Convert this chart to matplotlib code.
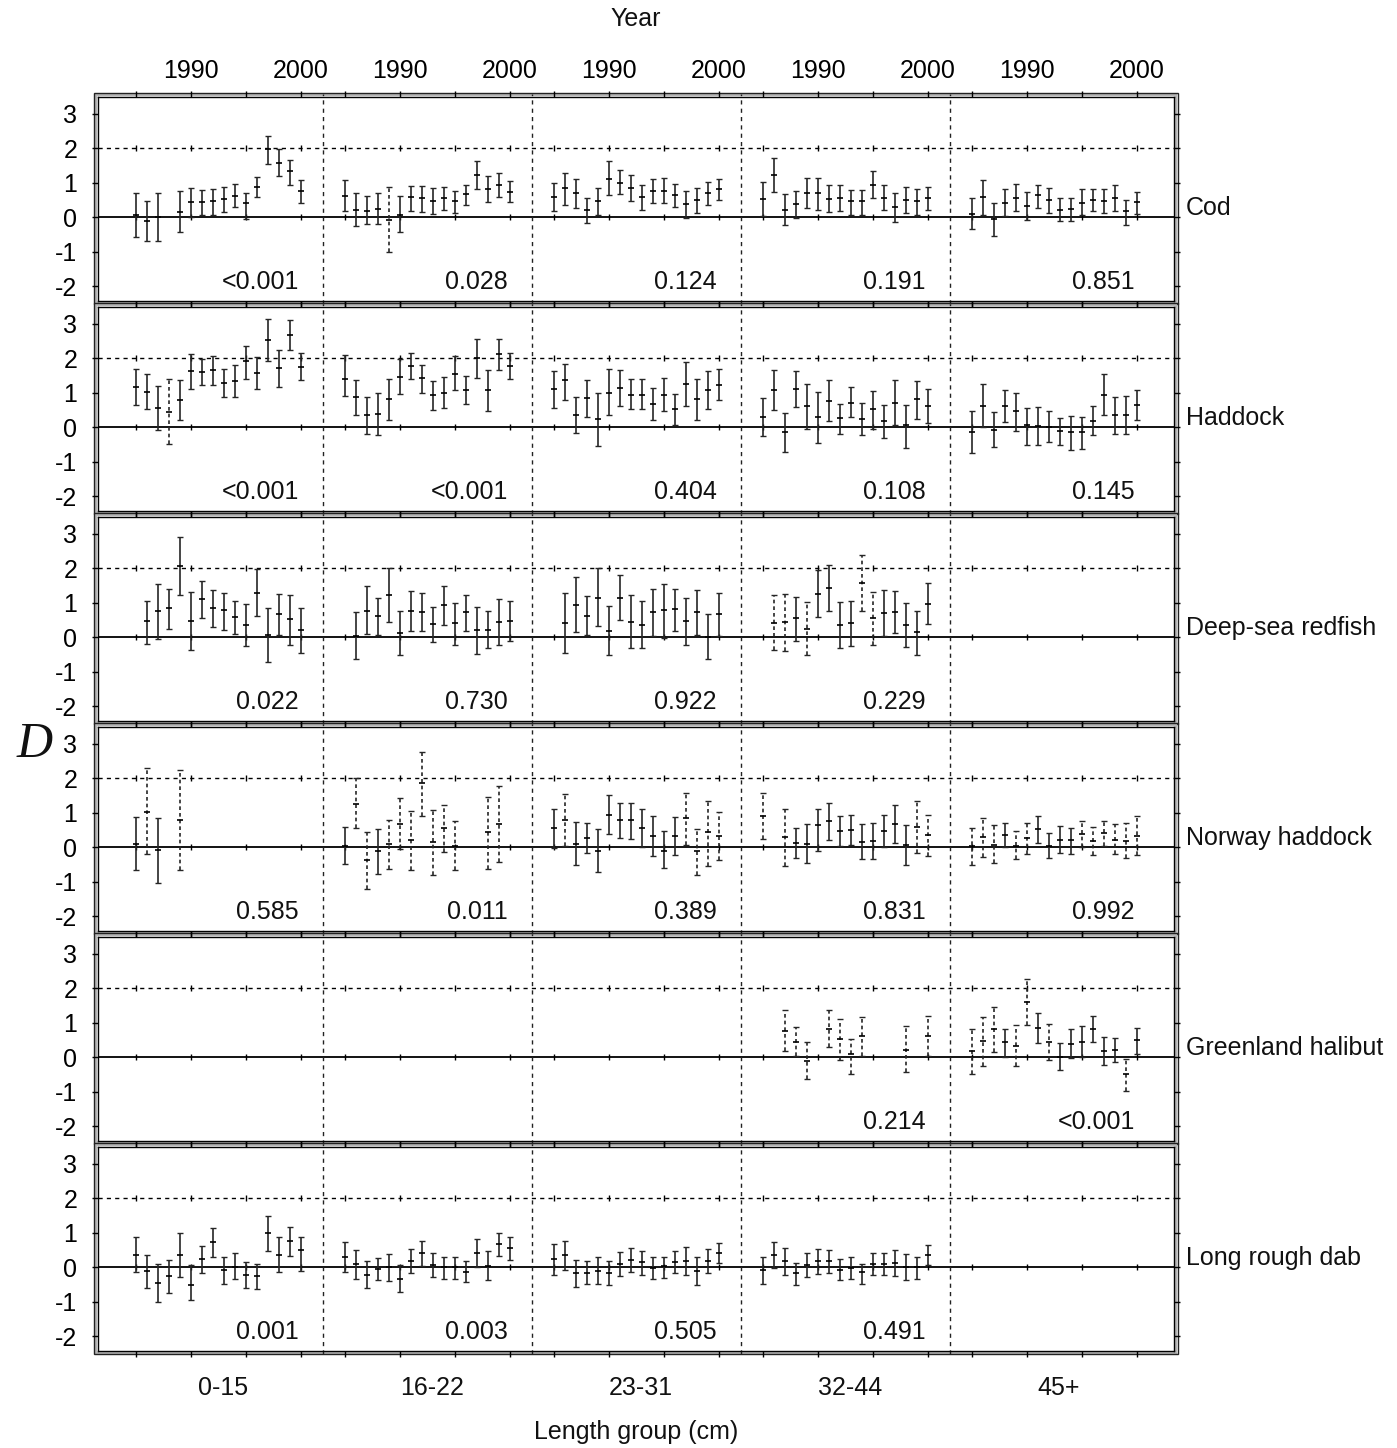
import numpy as np
import matplotlib
matplotlib.use("Agg")
import matplotlib.pyplot as plt
from matplotlib.patches import Rectangle
import matplotlib.transforms as mtransforms

nan = np.nan

# ---------------- data ----------------
YEARS = list(range(1985, 2001))
LENGTH_GROUPS = ["0-15", "16-22", "23-31", "32-44", "45+"]
SPECIES = ["Cod", "Haddock", "Deep-sea redfish", "Norway haddock",
           "Greenland halibut", "Long rough dab"]
EMPTY = [nan] * 16

# Cod
COD_MID = [
    [0.07, -0.10, 0.02, nan, 0.16, 0.44, 0.43, 0.46, 0.53, 0.63, 0.42, 0.89, 1.97, 1.58, 1.33, 0.77],
    [0.63, 0.22, 0.19, 0.25, -0.08, 0.08, 0.58, 0.56, 0.48, 0.57, 0.46, 0.67, 1.22, 0.82, 0.95, 0.74],
    [0.60, 0.84, 0.70, 0.20, 0.46, 1.12, 1.01, 0.84, 0.58, 0.77, 0.77, 0.65, 0.38, 0.50, 0.70, 0.81],
    [0.52, 1.22, 0.22, 0.38, 0.70, 0.70, 0.52, 0.57, 0.46, 0.46, 0.93, 0.57, 0.29, 0.50, 0.46, 0.57],
    [0.11, 0.60, -0.04, 0.41, 0.57, 0.33, 0.65, 0.50, 0.22, 0.24, 0.41, 0.50, 0.48, 0.55, 0.17, 0.44],
]
COD_LO = [
    [-0.56, -0.68, -0.68, nan, -0.43, 0.0, 0.08, 0.08, 0.15, 0.31, -0.05, 0.58, 1.55, 1.21, 0.94, 0.42],
    [0.17, -0.24, -0.19, -0.19, -1.0, -0.43, 0.17, 0.16, 0.10, 0.22, 0.12, 0.36, 0.82, 0.44, 0.60, 0.44],
    [0.17, 0.36, 0.27, -0.16, 0.08, 0.65, 0.68, 0.46, 0.20, 0.41, 0.41, 0.29, -0.02, 0.12, 0.36, 0.50],
    [0.03, 0.72, -0.21, -0.02, 0.27, 0.22, 0.15, 0.17, 0.08, 0.08, 0.55, 0.22, -0.13, 0.12, 0.08, 0.22],
    [-0.35, 0.08, -0.54, 0.03, 0.17, -0.07, 0.27, 0.12, -0.11, -0.10, 0.06, 0.17, 0.12, 0.17, -0.21, 0.10],
]
COD_HI = [
    [0.70, 0.46, 0.70, nan, 0.75, 0.86, 0.79, 0.82, 0.89, 0.96, 0.71, 1.16, 2.35, 1.97, 1.67, 1.08],
    [1.08, 0.70, 0.61, 0.70, 0.87, 0.61, 0.90, 0.90, 0.85, 0.89, 0.77, 0.93, 1.63, 1.19, 1.30, 1.06],
    [1.01, 1.29, 1.12, 0.57, 0.86, 1.62, 1.36, 1.24, 0.95, 1.12, 1.14, 0.98, 0.76, 0.84, 1.03, 1.12],
    [1.03, 1.71, 0.68, 0.77, 1.14, 1.14, 0.93, 0.95, 0.79, 0.79, 1.33, 0.95, 0.71, 0.89, 0.81, 0.89],
    [0.55, 1.08, 0.41, 0.81, 0.98, 0.74, 0.93, 0.86, 0.55, 0.57, 0.82, 0.82, 0.82, 0.93, 0.50, 0.74],
]
COD_DASHED = [[], [1989], [], [], []]
COD_P = ["<0.001", "0.028", "0.124", "0.191", "0.851"]

# Haddock
HAD_MID = [
    [1.17, 1.02, 0.56, 0.44, 0.80, 1.64, 1.60, 1.67, 1.29, 1.35, 1.91, 1.57, 2.53, 1.72, 2.69, 1.75],
    [1.40, 0.88, 0.37, 0.39, 0.83, 1.46, 1.79, 1.43, 0.95, 1.01, 1.55, 1.08, 2.01, 1.08, 2.12, 1.78],
    [1.10, 1.36, 0.36, 0.84, 0.25, 1.01, 1.14, 0.95, 0.95, 0.68, 0.93, 0.53, 1.25, 0.82, 1.08, 1.24],
    [0.30, 1.08, -0.14, 1.10, 0.63, 0.30, 0.77, 0.27, 0.71, 0.24, 0.52, 0.19, 0.71, 0.08, 0.81, 0.62],
    [-0.14, 0.63, -0.09, 0.63, 0.48, 0.06, 0.03, 0.0, -0.12, -0.14, -0.14, 0.17, 0.95, 0.37, 0.37, 0.66],
]
HAD_LO = [
    [0.64, 0.54, -0.07, -0.47, 0.22, 1.12, 1.22, 1.24, 0.87, 0.88, 1.41, 1.11, 1.93, 1.17, 2.25, 1.38],
    [0.90, 0.37, -0.18, -0.23, 0.22, 0.97, 1.40, 1.01, 0.51, 0.57, 1.08, 0.68, 1.43, 0.48, 1.67, 1.41],
    [0.57, 0.79, -0.16, 0.31, -0.54, 0.36, 0.62, 0.52, 0.52, 0.22, 0.46, 0.08, 0.62, 0.20, 0.53, 0.79],
    [-0.26, 0.50, -0.71, 0.60, -0.04, -0.45, 0.17, -0.18, 0.29, -0.21, -0.04, -0.30, 0.08, -0.61, 0.24, 0.12],
    [-0.76, 0.0, -0.58, 0.14, -0.10, -0.50, -0.50, -0.43, -0.52, -0.65, -0.62, -0.23, 0.37, -0.19, -0.19, 0.22],
]
HAD_HI = [
    [1.69, 1.55, 1.21, 1.40, 1.38, 2.13, 1.98, 2.06, 1.69, 1.80, 2.35, 2.03, 3.14, 2.23, 3.10, 2.15],
    [2.11, 1.38, 0.87, 1.01, 1.40, 1.99, 2.15, 1.82, 1.33, 1.46, 2.08, 1.48, 2.55, 1.65, 2.57, 2.17],
    [1.62, 1.84, 0.89, 1.36, 1.00, 1.68, 1.65, 1.39, 1.39, 1.14, 1.44, 0.98, 1.89, 1.41, 1.63, 1.68],
    [0.84, 1.67, 0.41, 1.62, 1.27, 1.03, 1.36, 0.67, 1.17, 0.70, 1.05, 0.65, 1.38, 0.65, 1.34, 1.12],
    [0.46, 1.27, 0.44, 1.09, 1.01, 0.56, 0.58, 0.46, 0.27, 0.32, 0.30, 0.61, 1.55, 0.88, 0.91, 1.09],
]
HAD_DASHED = [[1988], [], [], [], []]
HAD_P = ["<0.001", "<0.001", "0.404", "0.108", "0.145"]

# Deep-sea redfish
RED_MID = [
    [nan, 0.48, 0.76, 0.84, 2.08, 0.48, 1.10, 0.84, 0.79, 0.58, 0.36, 1.30, 0.08, 0.68, 0.52, 0.22],
    [nan, 0.03, 0.77, 0.62, 1.22, 0.12, 0.77, 0.72, 0.39, 0.93, 0.41, 0.72, 0.22, 0.22, 0.44, 0.48],
    [nan, 0.41, 0.95, 0.62, 1.15, 0.19, 1.15, 0.44, 0.36, 0.72, 0.79, 0.81, 0.48, 0.72, 0.0, 0.67],
    [nan, 0.41, 0.44, 0.55, 0.24, 1.27, 1.44, 0.36, 0.41, 1.58, 0.55, 0.70, 0.74, 0.36, 0.15, 0.98],
    EMPTY,
]
RED_LO = [
    [nan, -0.18, -0.04, 0.24, 1.24, -0.38, 0.55, 0.30, 0.22, 0.10, -0.24, 0.62, -0.71, 0.08, -0.23, -0.45],
    [nan, -0.64, 0.10, 0.08, 0.43, -0.51, 0.19, 0.19, -0.13, 0.36, -0.21, 0.19, -0.47, -0.32, -0.23, -0.10],
    [nan, -0.45, 0.15, 0.06, 0.33, -0.52, 0.50, -0.30, -0.30, 0.03, -0.02, 0.17, -0.23, 0.06, -0.64, 0.03],
    [nan, -0.38, -0.40, -0.10, -0.51, 0.60, 0.77, -0.32, -0.24, 0.76, -0.21, 0.03, 0.12, -0.29, -0.50, 0.39],
    EMPTY,
]
RED_HI = [
    [nan, 1.06, 1.55, 1.41, 2.90, 1.31, 1.63, 1.38, 1.29, 1.06, 0.96, 1.98, 0.84, 1.27, 1.24, 0.86],
    [nan, 0.74, 1.49, 1.15, 2.01, 0.77, 1.34, 1.29, 0.89, 1.49, 1.01, 1.24, 0.87, 0.76, 1.12, 1.06],
    [nan, 1.29, 1.76, 1.19, 2.01, 0.90, 1.82, 1.22, 1.06, 1.41, 1.55, 1.41, 1.15, 1.38, 0.68, 1.29],
    [nan, 1.22, 1.27, 1.17, 1.03, 1.95, 2.10, 1.03, 1.05, 2.39, 1.31, 1.36, 1.34, 1.00, 0.77, 1.57],
    EMPTY,
]
RED_DASHED = [[], [], [], [1986, 1987, 1989, 1994, 1995], []]
RED_P = ["0.022", "0.730", "0.922", "0.229", ""]

# Norway haddock
NOR_MID = [
    [0.11, 1.02, -0.08, nan, 0.80, nan, nan, nan, nan, nan, nan, nan, nan, nan, nan, nan],
    [0.05, 1.27, -0.38, -0.12, 0.10, 0.69, 0.21, 1.87, 0.14, 0.55, 0.04, nan, nan, 0.43, 0.69, nan],
    [0.55, 0.80, 0.10, 0.27, -0.10, 0.95, 0.79, 0.79, 0.57, 0.33, -0.10, 0.33, 0.84, -0.11, 0.43, 0.34],
    [0.90, nan, 0.30, 0.12, 0.10, 0.65, 0.76, 0.48, 0.50, 0.15, 0.19, 0.48, 0.68, 0.08, 0.60, 0.36],
    [0.03, 0.30, 0.06, 0.36, 0.03, 0.27, 0.52, 0.03, 0.22, 0.20, 0.38, 0.19, 0.41, 0.22, 0.19, 0.33],
]
NOR_LO = [
    [-0.65, -0.20, -1.03, nan, -0.65, nan, nan, nan, nan, nan, nan, nan, nan, nan, nan, nan],
    [-0.49, 0.55, -1.21, -0.77, -0.63, -0.06, -0.65, 0.91, -0.81, -0.14, -0.67, nan, nan, -0.62, -0.43, nan],
    [-0.03, 0.04, -0.51, -0.16, -0.71, 0.39, 0.27, 0.25, 0.0, -0.24, -0.61, -0.21, 0.08, -0.80, -0.54, -0.38],
    [0.24, nan, -0.54, -0.30, -0.45, -0.11, 0.20, 0.03, 0.06, -0.35, -0.33, 0.01, 0.12, -0.50, -0.16, -0.26],
    [-0.50, -0.29, -0.45, 0.0, -0.35, -0.19, 0.12, -0.30, -0.16, -0.18, 0.0, -0.23, 0.03, -0.19, -0.32, -0.21],
]
NOR_HI = [
    [0.88, 2.29, 0.85, nan, 2.24, nan, nan, nan, nan, nan, nan, nan, nan, nan, nan, nan],
    [0.59, 2.00, 0.43, 0.52, 0.80, 1.43, 1.06, 2.78, 1.09, 1.23, 0.76, nan, nan, 1.47, 1.77, nan],
    [1.12, 1.55, 0.74, 0.70, 0.52, 1.52, 1.30, 1.30, 1.12, 0.90, 0.46, 0.89, 1.57, 0.52, 1.34, 1.03],
    [1.58, nan, 1.12, 0.55, 0.67, 1.12, 1.29, 0.91, 0.93, 0.68, 0.71, 0.95, 1.22, 0.65, 1.34, 0.95],
    [0.55, 0.86, 0.65, 0.71, 0.46, 0.71, 0.90, 0.41, 0.62, 0.55, 0.77, 0.58, 0.77, 0.67, 0.71, 0.90],
]
NOR_DASHED = [
    [1986, 1989],
    [1986, 1987, 1989, 1990, 1991, 1992, 1993, 1994, 1995, 1998, 1999],
    [1986, 1997, 1998, 1999, 2000],
    [1985, 1987, 1999, 2000],
    [1985, 1986, 1987, 1989, 1990, 1995, 1996, 1997, 1998, 1999, 2000],
]
NOR_P = ["0.585", "0.011", "0.389", "0.831", "0.992"]

# Greenland halibut
GRE_MID = [
    EMPTY, EMPTY, EMPTY,
    [nan, nan, 0.77, 0.44, -0.11, nan, 0.83, 0.52, 0.10, 0.62, nan, nan, nan, 0.22, nan, 0.62],
    [0.19, 0.47, 0.82, 0.44, 0.33, 1.61, 0.85, 0.44, 0.0, 0.39, 0.44, 0.82, 0.19, 0.22, -0.49, 0.50],
]
GRE_LO = [
    EMPTY, EMPTY, EMPTY,
    [nan, nan, 0.19, 0.03, -0.64, nan, 0.29, -0.09, -0.47, 0.05, nan, nan, nan, -0.43, nan, 0.03],
    [-0.47, -0.24, 0.15, 0.0, -0.24, 0.95, 0.41, -0.09, -0.38, -0.02, 0.0, 0.44, -0.23, -0.13, -0.99, 0.09],
]
GRE_HI = [
    EMPTY, EMPTY, EMPTY,
    [nan, nan, 1.36, 0.88, 0.43, nan, 1.37, 1.12, 0.52, 1.18, nan, nan, nan, 0.90, nan, 1.21],
    [0.81, 1.18, 1.45, 0.83, 0.93, 2.26, 1.28, 0.98, 0.41, 0.81, 0.90, 1.19, 0.58, 0.57, -0.05, 0.86],
]
GRE_DASHED = [[], [], [], YEARS, [1985, 1986, 1987, 1989, 1990, 1992, 1999]]
GRE_P = ["", "", "", "0.214", "<0.001"]

# Long rough dab
LRD_MID = [
    [0.36, -0.11, -0.46, -0.24, 0.36, -0.51, 0.24, 0.72, -0.08, 0.02, -0.22, -0.25, 0.99, 0.36, 0.76, 0.50],
    [0.30, 0.10, -0.21, -0.04, 0.0, -0.35, 0.17, 0.41, 0.08, 0.0, 0.0, -0.13, 0.41, 0.03, 0.68, 0.55],
    [0.24, 0.36, -0.16, -0.16, -0.10, -0.16, 0.10, 0.22, 0.15, -0.02, 0.05, 0.15, 0.19, -0.10, 0.17, 0.41],
    [-0.07, 0.36, 0.17, -0.16, 0.08, 0.17, 0.17, -0.07, -0.02, -0.14, 0.10, 0.10, 0.12, 0.0, 0.0, 0.36],
    EMPTY,
]
LRD_LO = [
    [-0.15, -0.61, -1.01, -0.75, -0.27, -0.95, -0.17, 0.31, -0.49, -0.35, -0.59, -0.63, 0.47, -0.15, 0.34, -0.11],
    [-0.14, -0.33, -0.59, -0.38, -0.40, -0.71, -0.16, 0.03, -0.28, -0.33, -0.33, -0.42, 0.0, -0.37, 0.34, 0.22],
    [-0.23, -0.07, -0.56, -0.48, -0.48, -0.52, -0.26, -0.13, -0.21, -0.35, -0.30, -0.16, -0.23, -0.50, -0.16, 0.12],
    [-0.48, -0.02, -0.21, -0.52, -0.28, -0.19, -0.16, -0.38, -0.33, -0.48, -0.21, -0.21, -0.24, -0.38, -0.33, 0.08],
    EMPTY,
]
LRD_HI = [
    [0.87, 0.36, 0.09, 0.21, 1.00, 0.07, 0.63, 1.15, 0.31, 0.41, 0.14, 0.10, 1.50, 0.89, 1.18, 0.87],
    [0.72, 0.49, 0.17, 0.27, 0.38, 0.06, 0.53, 0.77, 0.41, 0.31, 0.31, 0.17, 0.81, 0.48, 1.01, 0.87],
    [0.68, 0.77, 0.20, 0.17, 0.29, 0.17, 0.43, 0.55, 0.46, 0.31, 0.31, 0.46, 0.60, 0.31, 0.52, 0.71],
    [0.31, 0.74, 0.55, 0.12, 0.41, 0.53, 0.50, 0.24, 0.31, 0.10, 0.41, 0.41, 0.49, 0.38, 0.30, 0.65],
    EMPTY,
]
LRD_DASHED = [[], [], [], [], []]
LRD_P = ["0.001", "0.003", "0.505", "0.491", ""]

PANELS = [
    (COD_MID, COD_LO, COD_HI, COD_DASHED, COD_P),
    (HAD_MID, HAD_LO, HAD_HI, HAD_DASHED, HAD_P),
    (RED_MID, RED_LO, RED_HI, RED_DASHED, RED_P),
    (NOR_MID, NOR_LO, NOR_HI, NOR_DASHED, NOR_P),
    (GRE_MID, GRE_LO, GRE_HI, GRE_DASHED, GRE_P),
    (LRD_MID, LRD_LO, LRD_HI, LRD_DASHED, LRD_P),
]

# ---------------- style / layout ----------------
plt.rcParams["font.family"] = ["Liberation Sans", "DejaVu Sans"]
plt.rcParams["axes.unicode_minus"] = False

W, H = 1397, 1448
fig = plt.figure(figsize=(W / 100, H / 100), dpi=100)
fig.patch.set_facecolor("white")

FS = 18
GROUP_SHIFT = 19          # each length group occupies 19 "years" on the shared x axis
XLIM = (1981.55, 2079.36)
YLIM = (-2.42, 3.5)
AX_L, AX_R = 98, 1174
TOP0, AX_H, STEP = 96.7, 204, 210

TICK_YEARS = [1985, 1990, 1995, 2000]
xticks = [y + GROUP_SHIFT * g for g in range(5) for y in TICK_YEARS]
xticklabels = [str(y) if y in (1990, 2000) else "" for g in range(5) for y in TICK_YEARS]

BAR_COLOR = "#262626"
CAP_COLOR = "#8c8c8c"

axes = []
for i, (mid_g, lo_g, hi_g, dash_g, p_g) in enumerate(PANELS):
    top = TOP0 + STEP * i
    ax = fig.add_axes([AX_L / W, 1 - (top + AX_H) / H, (AX_R - AX_L) / W, AX_H / H])
    axes.append(ax)
    ax.set_xlim(*XLIM)
    ax.set_ylim(*YLIM)

    # reference lines
    ax.axhline(0, color="black", lw=1.3, zorder=1)
    ax.axhline(2, color="black", lw=1.0, ls=(0, (3, 3)), zorder=1)
    ax.plot(xticks, [0] * len(xticks), ls="none", marker="|", ms=4.5, mew=1.0, color="black", zorder=1)
    ax.plot(xticks, [2] * len(xticks), ls="none", marker="|", ms=4.5, mew=1.0, color="black", zorder=1)
    for g in range(4):
        ax.axvline(2002 + GROUP_SHIFT * g, ymin=-0.015, ymax=1.015, clip_on=False,
                   color="#222222", lw=1.0, ls=(0, (3, 3)), zorder=1)

    # error bars
    for g in range(5):
        mid = np.array(mid_g[g], dtype=float)
        lo = np.array(lo_g[g], dtype=float)
        hi = np.array(hi_g[g], dtype=float)
        xs = np.array(YEARS) + GROUP_SHIFT * g
        dashed = np.array([y in dash_g[g] for y in YEARS])
        valid = ~np.isnan(mid)
        for is_dash in (False, True):
            sel = valid & (dashed == is_dash)
            if not sel.any():
                continue
            cont = ax.errorbar(xs[sel], mid[sel],
                               yerr=[mid[sel] - lo[sel], hi[sel] - mid[sel]],
                               fmt="none", ecolor=BAR_COLOR, elinewidth=1.2,
                               capsize=2.3, capthick=1.0, zorder=3)
            for cl in cont[1]:
                cl.set_color(CAP_COLOR)
            if is_dash:
                for lc in cont[2]:
                    lc.set_linestyle((0, (2.2, 1.8)))
            ax.plot(xs[sel], mid[sel], ls="none", marker="_", ms=4.5, mew=1.2,
                    color="black", zorder=4)
        if p_g[g]:
            ax.text(1999.8 + GROUP_SHIFT * g, -1.87, p_g[g], ha="right", va="center",
                    fontsize=FS, color="#111111")

    # species label
    ax.text(1.011, 0.08, SPECIES[i],
            transform=mtransforms.blended_transform_factory(ax.transAxes, ax.transData),
            ha="left", va="baseline", fontsize=FS, color="#111111")

    # ticks
    ax.set_xticks(xticks)
    ax.set_yticks([-2, -1, 0, 1, 2, 3])
    ax.set_yticklabels(["-2", "-1", "0", "1", "2", "3"])
    ax.tick_params(axis="y", which="both", direction="out", left=True, right=True,
                   labelleft=True, labelright=False, length=4, width=1.0,
                   labelsize=FS, pad=11)
    if i == 0:
        ax.set_xticklabels(xticklabels)
        ax.tick_params(axis="x", direction="out", top=True, bottom=True,
                       labeltop=True, labelbottom=False, length=4, width=1.0,
                       labelsize=FS, pad=6)
    else:
        ax.set_xticklabels([])
        ax.tick_params(axis="x", direction="out", top=True, bottom=True,
                       labeltop=False, labelbottom=False, length=4, width=1.0)
    for sp in ax.spines.values():
        sp.set_linewidth(1.0)
        sp.set_color("black")

    # double frame (grey band + outer line)
    for off, lw, col in ((1.9, 1.7, "#b5b5b5"), (3.6, 1.0, "#222222")):
        x0 = (AX_L - off) / W
        y0 = 1 - (top + AX_H + off) / H
        rect = Rectangle((x0, y0), (AX_R - AX_L + 2 * off) / W, (AX_H + 2 * off) / H,
                         transform=fig.transFigure, fill=False, lw=lw, edgecolor=col,
                         zorder=-1)
        fig.add_artist(rect)

# length-group labels under the bottom panel
bax = axes[-1]
btr = mtransforms.blended_transform_factory(bax.transData, fig.transFigure)
for g, name in enumerate(LENGTH_GROUPS):
    bax.text(1992.9 + GROUP_SHIFT * g, 1 - 1388 / H, name, transform=btr,
             ha="center", va="center", fontsize=FS, color="#111111")

fig.text(636 / W, 1 - 19 / H, "Year", ha="center", va="center", fontsize=FS, color="#111111")
fig.text(636 / W, 1 - 1432 / H, "Length group (cm)", ha="center", va="center",
         fontsize=FS, color="#111111")
fig.text(35 / W, 1 - 745 / H, "D", ha="center", va="center", fontsize=36,
         family=["Liberation Serif", "DejaVu Serif"], style="italic", color="#111111")

fig.savefig("out.png", dpi=100, facecolor="white")
